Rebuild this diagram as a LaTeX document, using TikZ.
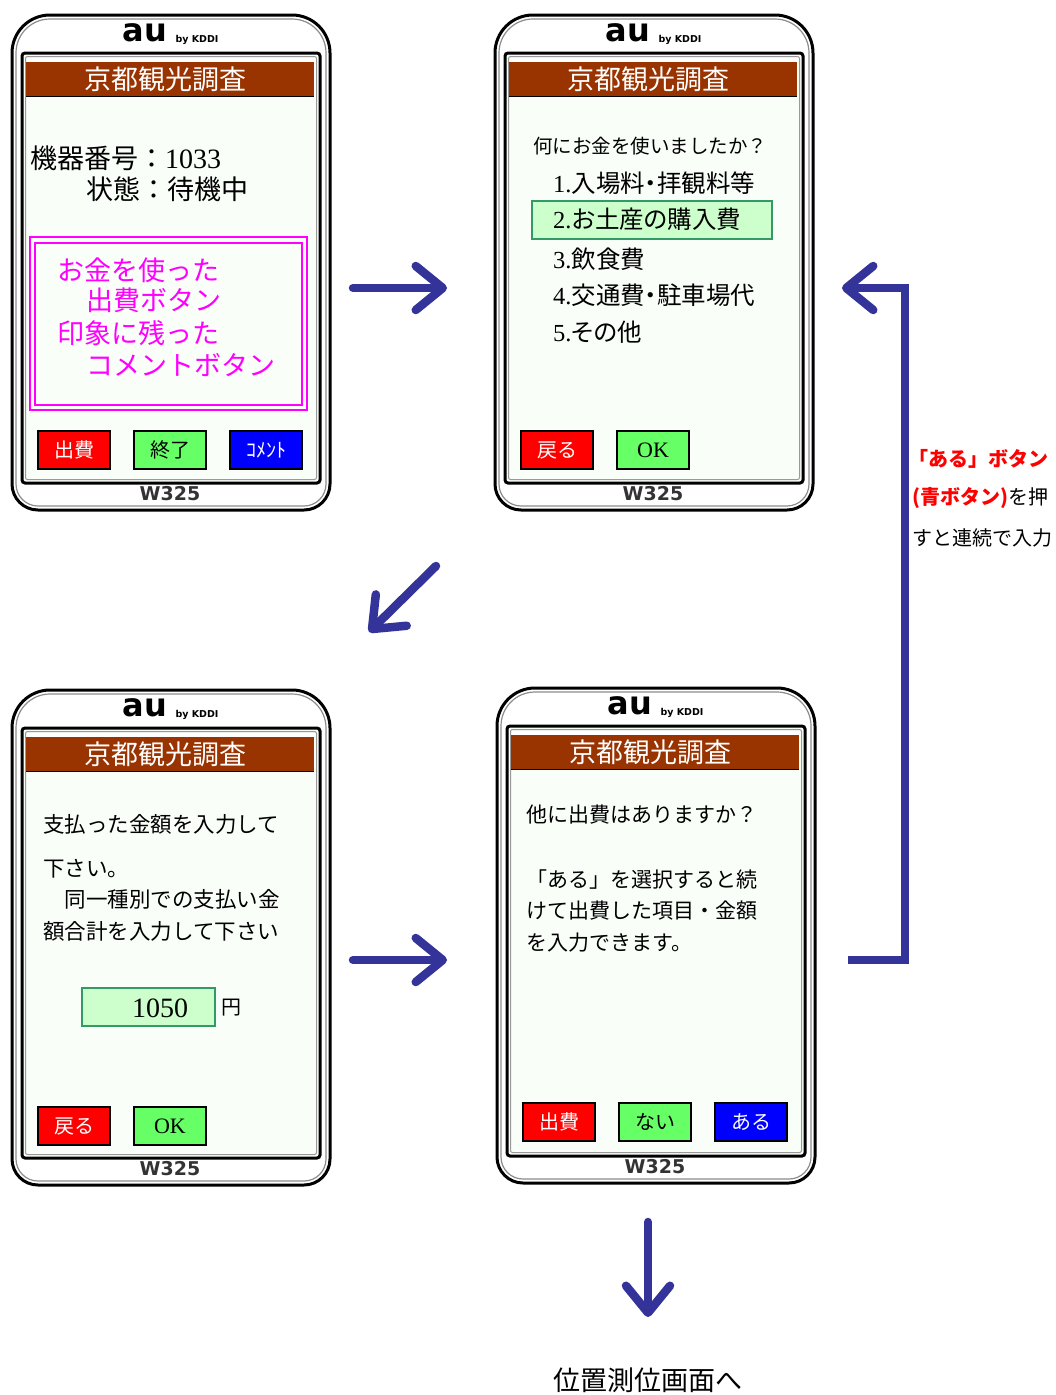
\documentclass[tikz,border=0pt]{standalone}
\usepackage{fontspec}
\setmainfont{Liberation Serif}
\newfontfamily\jp{Noto Sans CJK JP}
\newfontfamily\jpp[RawFeature=+palt]{Noto Sans CJK JP}
\newfontfamily\logofont{DejaVu Sans}
\usetikzlibrary{arrows.meta}

\definecolor{flowblue}{HTML}{333399}
\definecolor{titlebrown}{HTML}{993300}
\definecolor{screenbg}{HTML}{F9FEF9}
\definecolor{fieldgreen}{HTML}{CCFFCC}
\definecolor{fieldedge}{HTML}{339966}
\definecolor{btnred}{HTML}{FF0000}
\definecolor{btngreen}{HTML}{66FF66}
\definecolor{btnblue}{HTML}{0000FF}
\definecolor{hotpink}{HTML}{FF00FF}
\newcommand\fsz[1]{\fontsize{#1}{#1}\selectfont}

\tikzset{
  txt/.style={inner sep=0pt, anchor=west},
  btn/.style={draw=black, line width=1.5pt, minimum width=72pt, minimum height=38pt,
    inner sep=0pt, font=\jp\fsz{20}},
  redbtn/.style={btn, fill=btnred, text=white},
  greenbtn/.style={btn, fill=btngreen, text=black},
  bluebtn/.style={btn, fill=btnblue, text=white},
  field/.style={draw=fieldedge, fill=fieldgreen, line width=1.5pt},
  flow/.style={draw=flowblue, line width=8.5pt, line cap=round, line join=round},
  flowarrow/.style={flow, -{Straight Barb[length=27pt, width=44pt, round]}},
  % handset outline with screen frame, title bar, logo and model name
  phone/.pic={
    \draw[line width=3pt, fill=white] (0,250) [rounded corners=26pt] |- (318,495)
      [rounded corners=38pt] |- (0,0) -- cycle;
    \draw[black!45, line width=1.2pt] (4,250) [rounded corners=22pt] |- (314,491)
      [rounded corners=34pt] |- (4,4) -- cycle;
    \draw[line width=3pt, fill=screenbg, rounded corners=3pt] (10,38) rectangle (308,468);
    \draw[black!40, line width=1pt, rounded corners=2pt] (13.5,41.5) rectangle (304.5,464.5);
    \fill[white] (15,43) rectangle (303,463);
    \fill[screenbg] (15,82) rectangle (303,463);
    \fill[titlebrown] (14,47) rectangle (302,82);
    \draw[line width=1.5pt] (14,81.5) -- (302,81.5);
    \node[inner sep=0pt, font=\jp\fsz{27}, text=white] (-title) at (153,64) {京都観光調査};
    \node[inner sep=0pt, font=\logofont\bfseries\fsz{32}] (-logo) at (133,18) {au};
    \node[inner sep=0pt, font=\logofont\bfseries\fsz{9.5}] (-by) at (185,25) {by KDDI};
    \node[inner sep=0pt, font=\logofont\bfseries\fsz{19}, text=black!80] (-model) at (158,479) {W325};
  }
}

\begin{document}
\begin{tikzpicture}[x=1pt, y=-1pt]
\useasboundingbox (0,0) rectangle (1056,1395);
\fill[white] (0,0) rectangle (1056,1395);

% ---------- handset 1: standby screen ----------
\pic (p1) at (12,15) {phone};
\node[txt, font=\jp\fsz{27}] (p1num) at (30,158) {機器番号：{\rmfamily\fsz{28}1033}};
\node[txt, font=\jp\fsz{27}] (p1state) at (86,189) {状態：待機中};
\draw[hotpink, line width=2pt] (30,237) rectangle (307,410);
\draw[hotpink, line width=2pt] (35,243) rectangle (302,405);
\node[txt, font=\jp\fsz{27}, text=hotpink] (p1l1) at (57,270) {お金を使った};
\node[txt, font=\jp\fsz{27}, text=hotpink] (p1l2) at (86,300) {出費ボタン};
\node[txt, font=\jp\fsz{27}, text=hotpink] (p1l3) at (57,333) {印象に残った};
\node[txt, font=\jp\fsz{27}, text=hotpink] (p1l4) at (86,365) {コメントボタン};
\node[redbtn] (p1b1) at (74,450) {出費};
\node[greenbtn] (p1b2) at (170,450) {終了};
\node[bluebtn] (p1b3) at (266,450) {ｺﾒﾝﾄ};

% ---------- handset 2: category selection ----------
\pic (p2) at (495,15) {phone};
\node[txt, font=\jp\fsz{19.5}] (p2q) at (533,146) {何にお金を使いましたか？};
\draw[field] (532,201) rectangle (772,239);
\node[txt, font=\jpp\fsz{24.5}] (p2i1) at (553,183) {{\rmfamily 1.}入場料・拝観料等};
\node[txt, font=\jpp\fsz{24.5}] (p2i2) at (553,219) {{\rmfamily 2.}お土産の購入費};
\node[txt, font=\jpp\fsz{24.5}] (p2i3) at (553,259) {{\rmfamily 3.}飲食費};
\node[txt, font=\jpp\fsz{24.5}] (p2i4) at (553,295) {{\rmfamily 4.}交通費・駐車場代};
\node[txt, font=\jpp\fsz{24.5}] (p2i5) at (553,332) {{\rmfamily 5.}その他};
\node[redbtn] (p2b1) at (557,450) {戻る};
\node[greenbtn, font=\rmfamily\fsz{22}] (p2b2) at (653,450) {OK};

% ---------- handset 3: amount entry ----------
\pic (p3) at (12,690) {phone};
\node[txt, font=\jp\fsz{21.5}] (p3t1) at (43,824) {支払った金額を入力して};
\node[txt, font=\jp\fsz{21.5}] (p3t2) at (43,869) {下さい。};
\node[txt, font=\jp\fsz{21.5}] (p3t3) at (43,899) {　同一種別での支払い金};
\node[txt, font=\jp\fsz{21.5}] (p3t4) at (43,931) {額合計を入力して下さい};
\draw[field] (82,988) rectangle (215,1026);
\node[inner sep=0pt, font=\rmfamily\fsz{28}] (p3amt) at (160,1008) {1050};
\node[txt, font=\jp\fsz{20}] (p3yen) at (221,1008) {円};
\node[redbtn] (p3b1) at (74,1126) {戻る};
\node[greenbtn, font=\rmfamily\fsz{22}] (p3b2) at (170,1126) {OK};

% ---------- handset 4: further expenses ----------
\pic (p4) at (497,688) {phone};
\node[txt, font=\jp\fsz{21}] (p4t1) at (526,815) {他に出費はありますか？};
\node[txt, font=\jp\fsz{21}] (p4t2) at (526,880) {「ある」を選択すると続};
\node[txt, font=\jp\fsz{21}] (p4t3) at (526,911) {けて出費した項目・金額};
\node[txt, font=\jp\fsz{21}] (p4t4) at (526,943) {を入力できます。};
\node[redbtn] (p4b1) at (559,1122) {出費};
\node[greenbtn] (p4b2) at (655,1122) {ない};
\node[bluebtn] (p4b3) at (751,1122) {ある};

% ---------- flow arrows ----------
\coordinate (a1s) at (353,288);
\coordinate (a1e) at (447,288);
\coordinate (a2s) at (436,566);
\coordinate (a2e) at (369,632);
\coordinate (a3s) at (353,960);
\coordinate (a3e) at (447,960);
\coordinate (r0) at (848,960);
\coordinate (r1) at (905,288);
\coordinate (r2) at (842,288);
\coordinate (a4s) at (648,1222);
\coordinate (a4e) at (648,1317);
\draw[flowarrow] (a1s) -- (a1e);
\draw[flowarrow] (a2s) -- (a2e);
\draw[flowarrow] (a3s) -- (a3e);
\draw[flowarrow, line cap=butt, line join=miter] (r0) -| (r1) -- (r2);
\draw[flowarrow] (a4s) -- (a4e);

% ---------- side note and final step ----------
\node[txt, font=\jp\bfseries\fsz{20}, text=red] (n1) at (908,459) {「ある」ボタン};
\node[txt, font=\jp\fsz{20}] (n2) at (912,498) {{\bfseries\color{red}(青ボタン)}を押};
\node[txt, font=\jp\fsz{20}] (n3) at (912,538) {すと連続で入力};
\node[inner sep=0pt, font=\jp\fsz{27}] (fin) at (648,1380) {位置測位画面へ};
\end{tikzpicture}
\end{document}
